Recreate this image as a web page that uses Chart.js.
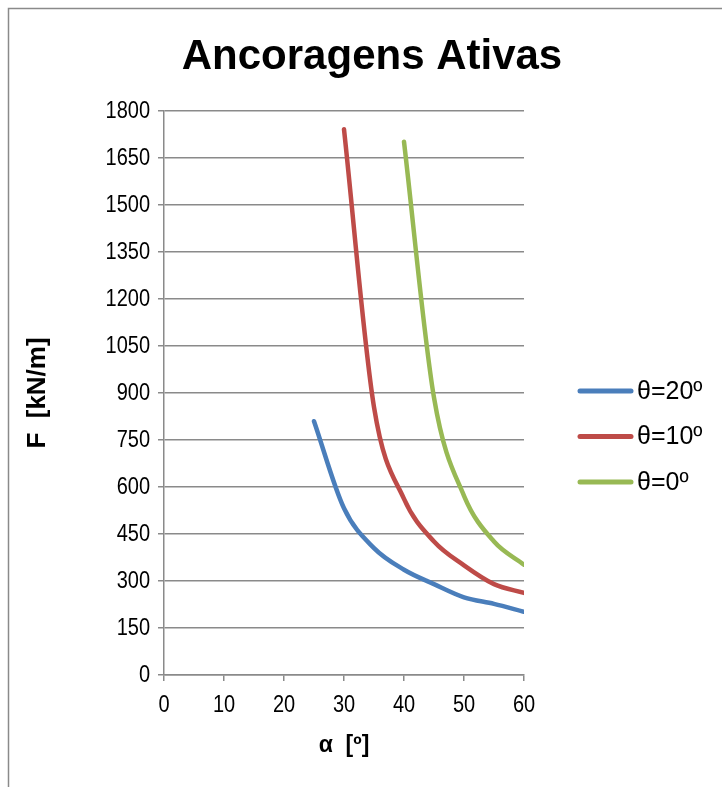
<!DOCTYPE html>
<html>
<head>
<meta charset="utf-8">
<title>Ancoragens Ativas</title>
<script src="https://cdn.jsdelivr.net/npm/chart.js@4/dist/chart.umd.min.js"></script>
<style>
  html, body { margin: 0; padding: 0; background: #ffffff; }
  canvas { display: block; }
</style>
</head>
<body>
<canvas id="chart" width="722" height="787"></canvas>
<script>
// Anchor force F [kN/m] against inclination α [º], one curve per θ
const alphaTheta20 = [25, 30, 35, 40, 45, 50, 55, 60];
const forceTheta20 = [810, 532, 405, 336, 290, 248, 227, 202];

const alphaTheta10 = [30, 35, 40, 45, 50, 55, 60];
const forceTheta10 = [1742, 855, 562, 426, 350, 290, 262];

const alphaTheta0 = [40, 45, 50, 55, 60];
const forceTheta0 = [1702, 885, 572, 426, 352];

const seriesLabels = ['θ=20º', 'θ=10º', 'θ=0º'];
const seriesColors = ['#4A7EBB', '#BE4B48', '#98B954'];

const xTicks = [0, 10, 20, 30, 40, 50, 60];
const yTicks = [0, 150, 300, 450, 600, 750, 900, 1050, 1200, 1350, 1500, 1650, 1800];

const chartTitle = 'Ancoragens Ativas';
const xTitle = 'α  [º]';
const yTitle = 'F  [kN/m]';

const FONT = "'Liberation Sans', Arial, Helvetica, sans-serif";
const TICK_SIZE = 20;
const TICK_STRETCH = 1.18;   // tick numerals are drawn slightly condensed (tall and narrow)
const GRID = '#8a8a8a';

function toPoints(xs, ys) {
  return xs.map((x, i) => ({ x: x, y: ys[i] }));
}

const datasets = [
  toPoints(alphaTheta20, forceTheta20),
  toPoints(alphaTheta10, forceTheta10),
  toPoints(alphaTheta0, forceTheta0)
].map((pts, i) => ({
  label: seriesLabels[i],
  data: pts,
  borderColor: seriesColors[i],
  backgroundColor: seriesColors[i],
  borderWidth: 4.5,
  borderCapStyle: 'round',
  borderJoinStyle: 'round',
  pointRadius: 0,
  pointHoverRadius: 0,
  cubicInterpolationMode: 'monotone',
  fill: false
}));

// Tick numerals: stretch vertically around their anchor point
function condenseTickText(ctx) {
  if (ctx.__condensed) return;
  const plain = ctx.fillText.bind(ctx);
  const re = new RegExp('(^|\\s)' + TICK_SIZE + 'px');
  ctx.fillText = function (text, x, y, maxWidth) {
    if (!re.test(ctx.font) || /bold/.test(ctx.font)) {
      return maxWidth === undefined ? plain(text, x, y) : plain(text, x, y, maxWidth);
    }
    ctx.save();
    ctx.translate(x, y);
    ctx.scale(1, TICK_STRETCH);
    if (maxWidth === undefined) plain(text, 0, 0); else plain(text, 0, 0, maxWidth);
    ctx.restore();
  };
  ctx.__condensed = true;
}

// Frame, centred title and the legend on the right side
const decorations = {
  id: 'decorations',
  beforeDraw(chart) {
    const ctx = chart.ctx;
    condenseTickText(ctx);
    ctx.save();
    ctx.fillStyle = '#ffffff';
    ctx.fillRect(0, 0, chart.width, chart.height);
    ctx.strokeStyle = '#8a8a8a';
    ctx.lineWidth = 1.5;
    ctx.beginPath();
    ctx.moveTo(8.5, chart.height);
    ctx.lineTo(8.5, 8.5);
    ctx.lineTo(chart.width, 8.5);
    ctx.stroke();
    ctx.restore();
  },
  afterDraw(chart) {
    const ctx = chart.ctx;
    ctx.save();
    ctx.fillStyle = '#000000';
    ctx.font = 'bold 42px ' + FONT;
    ctx.textAlign = 'center';
    ctx.textBaseline = 'alphabetic';
    ctx.fillText(chartTitle, 372, 69);

    ctx.font = '25px ' + FONT;
    ctx.textAlign = 'left';
    ctx.textBaseline = 'middle';
    chart.data.datasets.forEach((ds, i) => {
      const y = 391 + i * 45.5;
      ctx.strokeStyle = ds.borderColor;
      ctx.lineWidth = 5;
      ctx.lineCap = 'round';
      ctx.beginPath();
      ctx.moveTo(580, y);
      ctx.lineTo(631, y);
      ctx.stroke();
      ctx.fillStyle = '#000000';
      ctx.fillText(ds.label, 637, y + 1);
    });
    ctx.restore();
  }
};

const PAD = { left: 14, right: 198, top: 111, bottom: 20 };
const AREA = { left: 164, bottom: 675 };

new Chart(document.getElementById('chart'), {
  type: 'line',
  data: { datasets: datasets },
  options: {
    responsive: false,
    animation: false,
    devicePixelRatio: 1,
    layout: { padding: PAD },
    plugins: {
      legend: { display: false },
      title: { display: false },
      tooltip: { enabled: false }
    },
    scales: {
      x: {
        type: 'linear',
        min: 0,
        max: 60,
        afterBuildTicks(scale) { scale.ticks = xTicks.map(v => ({ value: v })); },
        afterFit(scale) { scale.height = 787 - PAD.bottom - AREA.bottom; },
        ticks: {
          color: '#000000',
          font: { family: FONT, size: TICK_SIZE },
          padding: 12,
          maxRotation: 0,
          autoSkip: false,
          callback: v => String(v)
        },
        grid: {
          drawOnChartArea: false,
          drawTicks: true,
          tickLength: 6,
          color: GRID,
          lineWidth: 1.5
        },
        border: { display: true, color: GRID, width: 1.5 },
        title: {
          display: true,
          text: xTitle,
          color: '#000000',
          font: { family: FONT, size: 23, weight: 'bold' },
          padding: { top: 0, bottom: 8 }
        }
      },
      y: {
        type: 'linear',
        min: 0,
        max: 1800,
        afterBuildTicks(scale) { scale.ticks = yTicks.map(v => ({ value: v })); },
        afterFit(scale) { scale.width = AREA.left - PAD.left; },
        ticks: {
          color: '#000000',
          font: { family: FONT, size: TICK_SIZE },
          padding: 8,
          autoSkip: false,
          callback: v => String(v)
        },
        grid: {
          drawOnChartArea: true,
          drawTicks: true,
          tickLength: 6,
          color: GRID,
          lineWidth: 1.5
        },
        border: { display: true, color: GRID, width: 1.5 },
        title: {
          display: true,
          text: yTitle,
          color: '#000000',
          font: { family: FONT, size: 26, weight: 'bold' },
          padding: { top: 8, bottom: 0 }
        }
      }
    }
  },
  plugins: [decorations]
});
</script>
</body>
</html>
